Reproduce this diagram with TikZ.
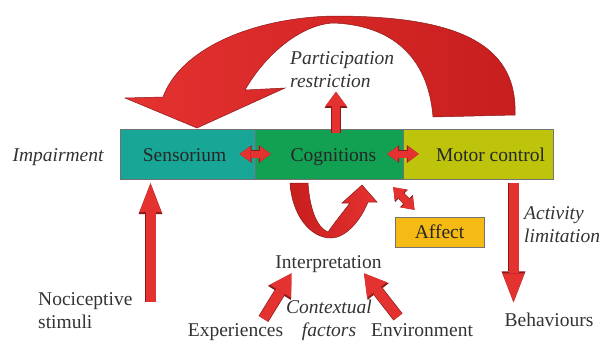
\documentclass[tikz,border=0pt]{standalone}
\usepackage{fontspec}
\setmainfont{Liberation Serif}
\usetikzlibrary{arrows.meta,calc}

\newcommand{\diagfont}{\fontsize{19.5}{23}\selectfont}

\tikzset{
  barbox/.style={draw=black!55, minimum height=50pt, inner sep=0pt},
  boxtext/.style={anchor=base, inner sep=0pt, text=black!85},
  plaintext/.style={inner sep=0pt, text=black!80},
  slanted/.style={plaintext, font=\diagfont\itshape},
  bigarrow/.style={draw=arrowred, line width=10pt,
    -{Triangle[width=22pt,length=29pt,line width=0pt]},
    preaction={draw=arrowedge, line width=11.4pt, -{Triangle[width=24pt,length=31pt,line width=0pt]}}},
  midarrow/.style={draw=arrowred, line width=10pt,
    -{Triangle[width=25pt,length=21pt,line width=0pt]},
    preaction={draw=arrowedge, line width=11.4pt, -{Triangle[width=27pt,length=23pt,line width=0pt]}}},
  smallup/.style={draw=arrowred, line width=8pt,
    -{Triangle[width=21pt,length=14pt,line width=0pt]},
    preaction={draw=arrowedge, line width=9.4pt, -{Triangle[width=23pt,length=16pt,line width=0pt]}}},
  twoway/.style={draw=arrowred, line width=7pt,
    {Triangle[width=16pt,length=11pt,line width=0pt]}-{Triangle[width=16pt,length=11pt,line width=0pt]},
    preaction={draw=arrowedge, line width=8.2pt,
      {Triangle[width=18pt,length=12pt,line width=0pt]}-{Triangle[width=18pt,length=12pt,line width=0pt]}}}
}

\begin{document}
\begin{tikzpicture}[x=1pt, y=-1pt, font=\diagfont]

    % Colori
    \definecolor{arrowred}{HTML}{E43230}
    \definecolor{arrowdark}{HTML}{C81E1E}
    \definecolor{arrowedge}{HTML}{8A1A1A}
    \definecolor{sensfill}{HTML}{18A696}
    \definecolor{cognfill}{HTML}{12A152}
    \definecolor{motorfill}{HTML}{BEC40C}
    \definecolor{affectfill}{HTML}{F6BA14}

    \useasboundingbox (0,0) rectangle (601,343);

    % Barra centrale
    \node[barbox, fill=sensfill, minimum width=135pt] (sens) at (188,154) {};
    \node[barbox, fill=cognfill, minimum width=148pt] (cogn) at (329,154) {};
    \node[barbox, fill=motorfill, minimum width=150pt] (motor) at (478,154) {};

    \node[boxtext] (senslab) at (184.5,161) {Sensorium};
    \node[boxtext] (cognlab) at (333.5,161) {Cognitions};
    \node[boxtext] (motorlab) at (490.5,161) {Motor control};
    \node[slanted, anchor=base] (impair) at (58,161) {Impairment};

    % Affect
    \node[draw=black!55, fill=affectfill, minimum width=89pt, minimum height=30pt,
          inner sep=0pt, text=black!85] (affect) at (439.5,232) {Affect};

    % Etichette
    \node[slanted, align=left, anchor=north west] (partic) at (290,51) {Participation\\restriction};
    \node[slanted, align=left, anchor=north west] (activity) at (524,206) {Activity\\limitation};
    \node[plaintext, anchor=base] (interp) at (328.5,268) {Interpretation};
    \node[plaintext, align=left, anchor=north west] (noci) at (38,292) {Nociceptive\\stimuli};
    \node[plaintext, anchor=base] (exper) at (235.5,336) {Experiences};
    \node[slanted, align=center, anchor=north] (context) at (329,300) {Contextual\\factors};
    \node[plaintext, anchor=base] (envir) at (422,336) {Environment};
    \node[plaintext, anchor=base] (behav) at (549,326) {Behaviours};

    % Freccia curva grande
    \path[draw=arrowedge, line width=0.5pt, left color=arrowred, right color=arrowdark]
      (433,117) -- (515,115)
      .. controls (518,40) and (450,16) .. (333,16)
      .. controls (250,18) and (180,50) .. (163,97)
      -- (125,98) -- (197,128) -- (285,88) -- (245,90)
      .. controls (265,55) and (300,25) .. (333,23)
      .. controls (390,25) and (428,55) .. (433,117) -- cycle;

    % Freccia a U sotto Cognitions
    \path[draw=arrowedge, line width=0.5pt, left color=arrowdark, right color=arrowred]
      (290,183) -- (308,183)
      .. controls (310,212) and (318,228) .. (328,232)
      .. controls (335,222) and (343,212) .. (350,203)
      -- (342,203) -- (362,185) -- (377,202) -- (368,202)
      .. controls (360,222) and (345,238) .. (331,238)
      .. controls (310,238) and (292,215) .. (290,183) -- cycle;

    % Frecce doppie
    \draw[twoway] ($(sens.east)+(-16,0)$) -- ($(cogn.west)+(16,0)$);
    \draw[twoway] ($(cogn.east)+(-16,0)$) -- ($(motor.west)+(16,0)$);
    \draw[twoway] ($(cogn.south east)+(-10,8)$) -- ($(affect.north)+(-25,-7)$);

    % Frecce dritte
    \coordinate (nocitail) at (150.5,302);
    \coordinate (acttop) at (513.5,183);
    \draw[bigarrow] (nocitail) -- ($(nocitail |- sens.south)+(0,4)$);
    \draw[bigarrow] ($(motor.south -| acttop)+(0,4)$) -- ($(behav.north -| acttop)+(0,-10)$);
    \draw[smallup] ($(cogn.north)+(7,4)$) -- ($(cogn.north)+(7,-37)$);
    \draw[midarrow] ($(exper.north)+(28,-4)$) -- ($(interp.south)+(-37,1)$);
    \draw[midarrow] ($(envir.north)+(-24,-6)$) -- ($(interp.south)+(35.5,1)$);

\end{tikzpicture}
\end{document}
